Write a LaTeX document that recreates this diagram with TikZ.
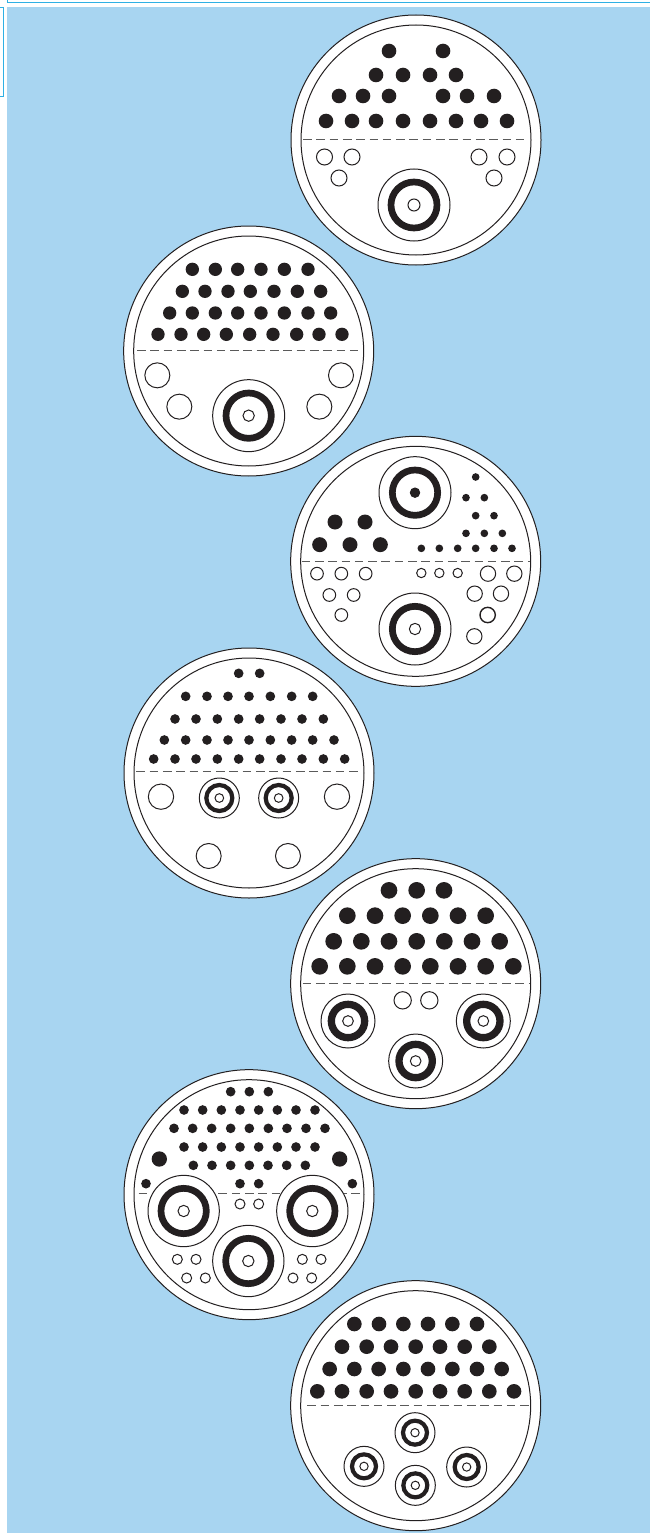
\documentclass[tikz,border=0pt]{standalone}
\definecolor{skyfill}{HTML}{A8D5F1}
\definecolor{edgeblue}{HTML}{2FB0E4}
\definecolor{ink}{HTML}{231F20}
\definecolor{dashgrey}{HTML}{5A5A5A}
\tikzset{
  thinring/.style={draw=ink,line width=1pt,fill=white},
  blackring/.style={draw=ink,fill=none},
  sepline/.style={draw=dashgrey,line width=0.85pt,dash pattern=on 8.6pt off 4.7pt},
  frameline/.style={draw=edgeblue,line width=1pt}
}
% discs and open circles: #1 radius, #2 list of x/y
\newcommand{\solidset}[2]{\foreach \px/\py in {#2} \fill[ink] (\px,\py) circle (#1);}
\newcommand{\openset}[2]{\foreach \px/\py in {#2} \path[thinring] (\px,\py) circle (#1);}
% coax: x, y, outer radius, ring mid radius, ring width (pt), core radius
\newcommand{\coaxial}[6]{%
  \path[thinring] (#1,#2) circle (#3);
  \path[blackring,line width=#5pt] (#1,#2) circle (#4);
  \path[thinring] (#1,#2) circle (#6);}
\newcommand{\shell}[2]{%
  \path[thinring] (#1,#2) circle (375);
  \path[thinring] (#1,#2) circle (345);}
\begin{document}
\begin{tikzpicture}[x=1pt,y=-1pt]
\useasboundingbox (0,0) rectangle (650,1533);
\fill[white] (0,0) rectangle (650,1533);
\fill[skyfill] (7,7) rectangle (650,1533);
\draw[frameline] (7.5,0) -- (7.5,3) -- (650,3);
\draw[frameline] (0,7.5) -- (3.5,7.5) -- (3.5,97) -- (0,97);

% circle 1
\path[thinring] (416,140) circle (125);
\path[thinring] (416,140) circle (115);
\solidset{7.3}{389/51,443/51,376/75,403/75,430/75,456/75,339/96,363/96,389/96,443/96,467/96,494/96,326/121,352/121,376/121,403/121,430/121,456/121,481/121,507/121}
\draw[sepline] (303,139) -- (526,139);
\openset{8}{324.5/157,352/157,339/178,479/157,507/157,494/178}
\coaxial{414}{205}{36}{23}{6.7}{6}

% circle 2
\begin{scope}[x=0.33333pt,y=-0.33333pt,shift={(122pt,-225pt)}]
\shell{380}{378}
\solidset{20}{211/133,280/133,347/133,417/133,487/133,558/133,181/199,249/199,318/199,385/199,456/199,526/199,596/199,143/264,211/264,280/264,347/264,417/264,487/264,558/264,626/264,108/328,177/328,245/328,313/328,383/328,453/328,524/328,591/328,660/328}
\draw[sepline] (45,375) -- (712,375);
\openset{37.5}{106/451,657/451,172/545,592/545}
\coaxial{380}{572}{108}{68}{6.7}{17}
\end{scope}

% circle 3
\begin{scope}[x=0.33333pt,y=-0.33333pt,shift={(290pt,-435pt)}]
\shell{377}{379}
\solidset{22.5}{135/261,225/261,89/329,180/329,271/329}
\solidset{11.5}{557/126,528/188,583/188,557/242,612/242,528/295,583/295,637/295,394/340,448/340,503/340,557/340,612/340,666/340}
\draw[sepline] (35,378) -- (720,378);
\coaxial{375}{173}{108}{68}{6.7}{14}
\fill[ink] (375,173) circle (14);
\openset{19}{81/416,154/416,227/416,118/480,191/480,154/540}
\openset{14}{394/414,448/414,503/414}
\openset{23}{594/416,673/416,554/476,633/476,553/604}
\path[thinring,line width=1.4pt] (593,540) circle (23);
\coaxial{375}{582}{108}{68}{6.7}{17}
\end{scope}

% circle 4
\begin{scope}[x=0.33333pt,y=-0.33333pt,shift={(122pt,-645pt)}]
\shell{381}{384}
\solidset{14.5}{350/85,413/85,191/154,255/154,318/154,381/154,445/154,509/154,572/154,159/222,222/222,286/222,350/222,413/222,477/222,540/222,604/222,127/285,191/285,255/285,318/285,381/285,445/285,509/285,572/285,636/285,95/342,159/342,222/342,286/342,350/342,413/342,477/342,540/342,604/342,668/342}
\draw[sepline] (43,380) -- (708,380);
\openset{38}{117/455,645/455}
\openset{37.5}{260/633,498/633}
\coaxial{292}{459}{60}{39}{4.2}{13}
\coaxial{470}{459}{60}{39}{4.2}{13}
\end{scope}

% circle 5
\begin{scope}[x=0.33333pt,y=-0.33333pt,shift={(290pt,-857pt)}]
\shell{377}{380}
\solidset{25}{297/100,380/100,462/100,172/176,255/176,338/176,421/176,504/176,587/176,131/253,214/253,297/253,380/253,463/253,546/253,629/253,89/328,172/328,255/328,338/328,421/328,504/328,587/328,670/328}
\draw[sepline] (38,378) -- (720,378);
\openset{26}{338/430,418/430}
\coaxial{174}{492}{81}{50}{7.3}{16}
\coaxial{580}{492}{81}{50}{7.3}{16}
\coaxial{377}{612}{81}{50}{7.3}{16}
\end{scope}

% circle 6
\begin{scope}[x=0.33333pt,y=-0.33333pt,shift={(122pt,-1068pt)}]
\shell{381}{380}
\solidset{14.5}{326/71,382/71,439/71,186/126,242/126,298/126,354/126,410/126,466/126,522/126,579/126,156/181,212/181,269/181,326/181,382/181,439/181,495/181,552/181,609/181,186/237,242/237,298/237,354/237,410/237,466/237,522/237,579/237,214/292,270/292,326/292,382/292,438/292,494/292,550/292,354/347,410/347,72/347,691/347}
\solidset{23}{112/273,653/273}
\draw[sepline] (50,377) -- (714,377);
\openset{15}{354/408,410/408,166/574,222/574,194/630,250/630,541/574,597/574,513/630,569/630}
\coaxial{185}{429}{107}{68}{6.7}{17}
\coaxial{571}{429}{107}{68}{6.7}{17}
\coaxial{379}{579}{107}{68}{6.7}{17}
\end{scope}

% circle 7
\begin{scope}[x=0.33333pt,y=-0.33333pt,shift={(290pt,-1278pt)}]
\shell{377}{383}
\solidset{22}{193/138,267/138,340/138,414/138,487/138,561/138,156/206,230/206,303/206,377/206,450/206,524/206,598/206,119/273,193/273,266/273,340/273,414/273,487/273,561/273,635/273,82/340,156/340,230/340,303/340,377/340,450/340,524/340,598/340,672/340}
\draw[sepline] (52,383) -- (718,383);
\coaxial{375}{464}{60}{36}{4.2}{12.5}
\coaxial{222}{565}{60}{36}{4.2}{12.5}
\coaxial{530}{567}{60}{36}{4.2}{12.5}
\coaxial{376}{622}{60}{36}{4.2}{12.5}
\end{scope}
\end{tikzpicture}
\end{document}
